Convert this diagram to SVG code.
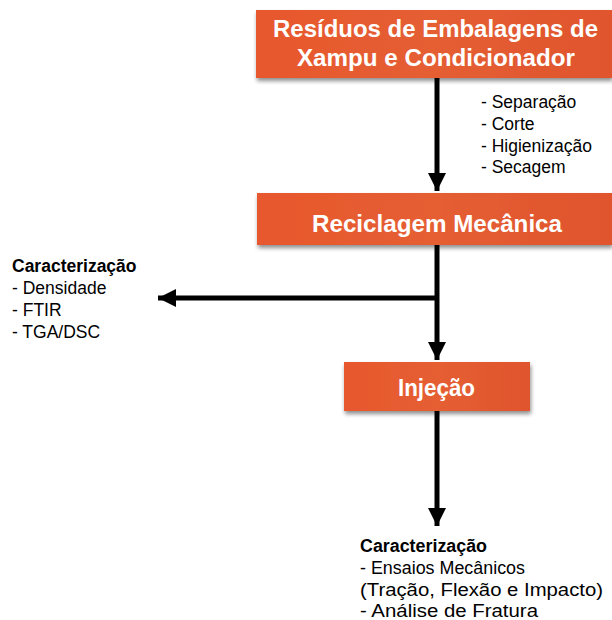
<svg xmlns="http://www.w3.org/2000/svg" width="612" height="620" viewBox="0 0 612 620">
<defs>
<linearGradient id="og" x1="0" y1="0" x2="1" y2="0">
<stop offset="0" stop-color="#E8582D"/>
<stop offset="0.5" stop-color="#E55E32"/>
<stop offset="1" stop-color="#E0552D"/>
</linearGradient>
<filter id="sh" x="-10%" y="-20%" width="125%" height="160%">
<feGaussianBlur in="SourceAlpha" stdDeviation="2"/>
<feOffset dx="1" dy="3" result="b"/>
<feComponentTransfer><feFuncA type="linear" slope="0.45"/></feComponentTransfer>
<feMerge><feMergeNode/><feMergeNode in="SourceGraphic"/></feMerge>
</filter>
<marker id="ah" viewBox="0 0 10 10" refX="10" refY="5" markerWidth="3.6" markerHeight="3.6" orient="auto" markerUnits="strokeWidth">
<path d="M0,0 L10,5 L0,10 Z" fill="#000"/>
</marker>
</defs>
<style>
.box{fill:url(#og);filter:url(#sh)}
.bt{font-family:"Liberation Sans",Arial,sans-serif;font-weight:bold;font-size:23.5px;fill:#fff;text-anchor:middle}
.t{font-family:"Liberation Sans",Arial,sans-serif;font-size:17.5px;fill:#000}
.tb{font-weight:bold}
.c{stroke:#000;stroke-width:5;fill:none}
</style>
<g id="connectors">
<line class="c" x1="437" y1="78" x2="437" y2="191" marker-end="url(#ah)"/>
<line class="c" x1="437" y1="245" x2="437" y2="360" marker-end="url(#ah)"/>
<line class="c" x1="437" y1="298" x2="158" y2="298" marker-end="url(#ah)"/>
<line class="c" x1="437" y1="411" x2="437" y2="526" marker-end="url(#ah)"/>
</g>
<g id="n1">
<rect class="box" x="256" y="10" width="356" height="68"/>
<text class="bt" x="435.5" y="37" textLength="325" lengthAdjust="spacingAndGlyphs">Resíduos de Embalagens de</text>
<text class="bt" x="436" y="66" textLength="278" lengthAdjust="spacingAndGlyphs">Xampu e Condicionador</text>
</g>
<g id="n2">
<rect class="box" x="257" y="193" width="355" height="52"/>
<text class="bt" x="437" y="232" textLength="250" lengthAdjust="spacingAndGlyphs">Reciclagem Mecânica</text>
</g>
<g id="n3">
<rect class="box" x="344" y="362" width="186" height="49"/>
<text class="bt" x="436.5" y="396" textLength="77" lengthAdjust="spacingAndGlyphs">Injeção</text>
</g>
<g id="steps">
<text class="t" x="481" y="108">- Separação</text>
<text class="t" x="481" y="130">- Corte</text>
<text class="t" x="481" y="152">- Higienização</text>
<text class="t" x="481" y="173">- Secagem</text>
</g>
<g id="char1">
<text class="t tb" x="12" y="272">Caracterização</text>
<text class="t" x="12" y="294">- Densidade</text>
<text class="t" x="12" y="316">- FTIR</text>
<text class="t" x="12" y="338">- TGA/DSC</text>
</g>
<g id="char2">
<text class="t tb" x="360" y="552" textLength="127" lengthAdjust="spacingAndGlyphs">Caracterização</text>
<text class="t" x="360" y="574" textLength="165" lengthAdjust="spacingAndGlyphs">- Ensaios Mecânicos</text>
<text class="t" x="360" y="596" textLength="243" lengthAdjust="spacingAndGlyphs">(Tração, Flexão e Impacto)</text>
<text class="t" x="360" y="617" textLength="178" lengthAdjust="spacingAndGlyphs">- Análise de Fratura</text>
</g>
</svg>
